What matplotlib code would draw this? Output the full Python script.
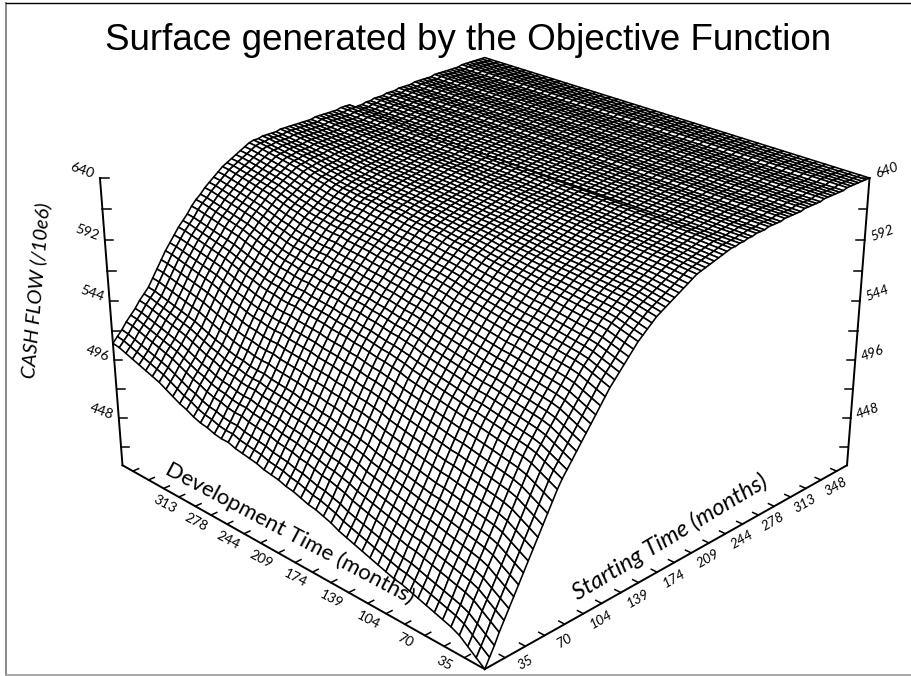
import numpy as np
import matplotlib
matplotlib.use('Agg')
import matplotlib.pyplot as plt
from mpl_toolkits.mplot3d import proj3d

# axis values
tick_months = [17.4, 35, 52, 70, 87, 104, 122, 139, 157, 174, 191, 209, 226, 244, 261, 278, 296, 313, 330, 348]
dev_labels = [35, 70, 104, 139, 174, 209, 244, 278, 313]
start_labels = [35, 70, 104, 139, 174, 209, 244, 278, 313, 348]
z_ticks = [424, 448, 472, 496, 520, 544, 568, 592, 616, 640]
z_labels = [448, 496, 544, 592, 640]

# cash flow read along the edges of the surface
# front right edge (development time at its lowest), one value per mesh line
start_edge = [408, 415, 422, 430, 437, 444, 451, 458, 465, 472, 479, 486, 493, 500, 507, 514, 520, 525,
              530, 535, 540, 545, 550, 555, 560, 565, 570, 574, 578, 582, 586, 590, 594, 597, 600, 603,
              606, 608, 610, 612, 614, 616, 618, 620, 622, 624, 625, 626, 627, 628, 629, 630, 631, 632,
              632, 633, 633, 634, 634, 635, 635, 635, 636, 636, 636, 636, 637, 637, 637, 637, 637, 638,
              638, 638, 638, 638, 639, 639, 639, 639, 639, 639, 640, 640, 640, 640, 640, 640, 640]
# back left edge (development time at its highest)
top_edge = [510, 514, 518, 523, 527, 531, 536, 540, 544, 550, 556, 562, 568, 573, 578, 583, 587, 591,
            596, 600, 603, 607, 610, 613, 616, 619, 621, 623, 625, 627, 629, 631, 632, 632, 633, 633,
            633, 633, 634, 634, 634, 634, 634, 634, 634, 634, 635, 635, 635, 635, 635, 635, 636, 636,
            636, 632, 633, 633, 634, 634, 635, 635, 635, 636, 636, 636, 637, 637, 637, 637, 638, 638,
            638, 638, 638, 639, 639, 639, 639, 639, 639, 639, 640, 640, 640, 640, 640, 640, 640]
# front left edge (starting time at its lowest)
dev_edge = [408, 413, 418, 423, 426, 428, 430, 432, 434, 436, 438, 439, 441, 443, 445, 447, 449,
            451, 453, 456, 458, 460, 461, 463, 465, 466, 468, 469, 470, 472, 473, 474, 475, 477,
            477, 478, 480, 481, 483, 486, 488, 491, 494, 497, 499, 501, 503, 505, 507, 509, 510]

zmin, zmax = 408, 640
axmax = 360

start_edge = np.array(start_edge, dtype=float)
dev_edge = np.array(dev_edge, dtype=float)
top_edge = np.array(top_edge, dtype=float)
start_grid = np.linspace(0, axmax, len(start_edge))
dev_grid = np.linspace(0, axmax, len(dev_edge))
X, Y = np.meshgrid(start_grid, dev_grid)
# the inner mesh joins the edges
weight = (dev_edge - dev_edge[0]) / (dev_edge[-1] - dev_edge[0])
Z = start_edge + np.outer(weight, top_edge - start_edge)

fig = plt.figure(figsize=(9.12, 6.76), dpi=100)
ax = fig.add_axes([0.018, -0.175, 1, 912 / 676], projection='3d')
ax.set_proj_type('persp', focal_length=0.45)
ax.view_init(elev=25, azim=-135)
ax.set_box_aspect((1, 1, 0.6), zoom=0.863)
ax.set_xlim(0, axmax)
ax.set_ylim(0, axmax)
ax.set_zlim(zmin, zmax)
ax.set_axis_off()

ax.plot_surface(X, Y, Z, rstride=1, cstride=1, color='white', edgecolor='black',
                linewidth=1.15, shade=False, antialiased=True)

# axes
line = dict(color='black', linewidth=1.4, zorder=1000)
ax.plot([0, axmax], [0, 0], [zmin, zmin], **line)
ax.plot([0, 0], [0, axmax], [zmin, zmin], **line)
ax.plot([0, 0], [axmax, axmax], [zmin, zmax], **line)
ax.plot([axmax, axmax], [0, 0], [zmin, zmax], **line)

tick = dict(color='black', linewidth=1.1, zorder=1000)
for t in tick_months:
    ax.plot([t, t], [0, 5], [zmin, zmin], **tick)
    ax.plot([0, 5], [t, t], [zmin, zmin], **tick)
for z in z_ticks:
    ax.plot([0, 4], [axmax, axmax - 4], [z, z], **tick)
    ax.plot([axmax - 4, axmax], [4, 0], [z, z], **tick)


def label3d(x, y, z, s, **kw):
    px, py, _ = proj3d.proj_transform(x, y, z, ax.get_proj())
    fig.text(px, py, s, transform=ax.transData, fontsize=10, ha='center', va='center', family='Lato', **kw)


for t in dev_labels:
    label3d(0, t, zmin - 13, str(t), rotation=-28)
for t in start_labels:
    label3d(t, 0, zmin - 13, str(t), rotation=30, style='italic')
for z in z_labels:
    label3d(-8, axmax + 8, z + 6, str(z), rotation=-20)
    label3d(axmax + 8, -8, z + 6, str(z), rotation=20, style='italic')

fig.text(290 / 912, 1 - 533 / 676, 'Development Time (months)', rotation=-28, fontsize=16,
         ha='center', va='center', family='Lato', rotation_mode='anchor')
fig.text(670 / 912, 1 - 537 / 676, 'Starting Time (months)', rotation=31, fontsize=17,
         ha='center', va='center', family='Lato', style='italic', rotation_mode='anchor')
fig.text(36 / 912, 1 - 290 / 676, 'CASH FLOW (/10e6)', rotation=85, fontsize=14.5,
         ha='center', va='center', family='Lato', style='italic', rotation_mode='anchor')
fig.text(468 / 912, 1 - 41 / 676, 'Surface generated by the Objective Function', fontsize=26.5,
         ha='center', va='center', family='Liberation Sans')

# page frame
fig.add_artist(plt.Line2D([6.5 / 912, 6.5 / 912], [1 / 676, 673 / 676], color='#808080', linewidth=1.3))
fig.add_artist(plt.Line2D([6 / 912, 1], [1 / 676, 1 / 676], color='#a0a0a0', linewidth=1.3))
fig.add_artist(plt.Line2D([6 / 912, 1], [673 / 676, 673 / 676], color='black', linewidth=1.0))

fig.savefig('out.png', dpi=100)
